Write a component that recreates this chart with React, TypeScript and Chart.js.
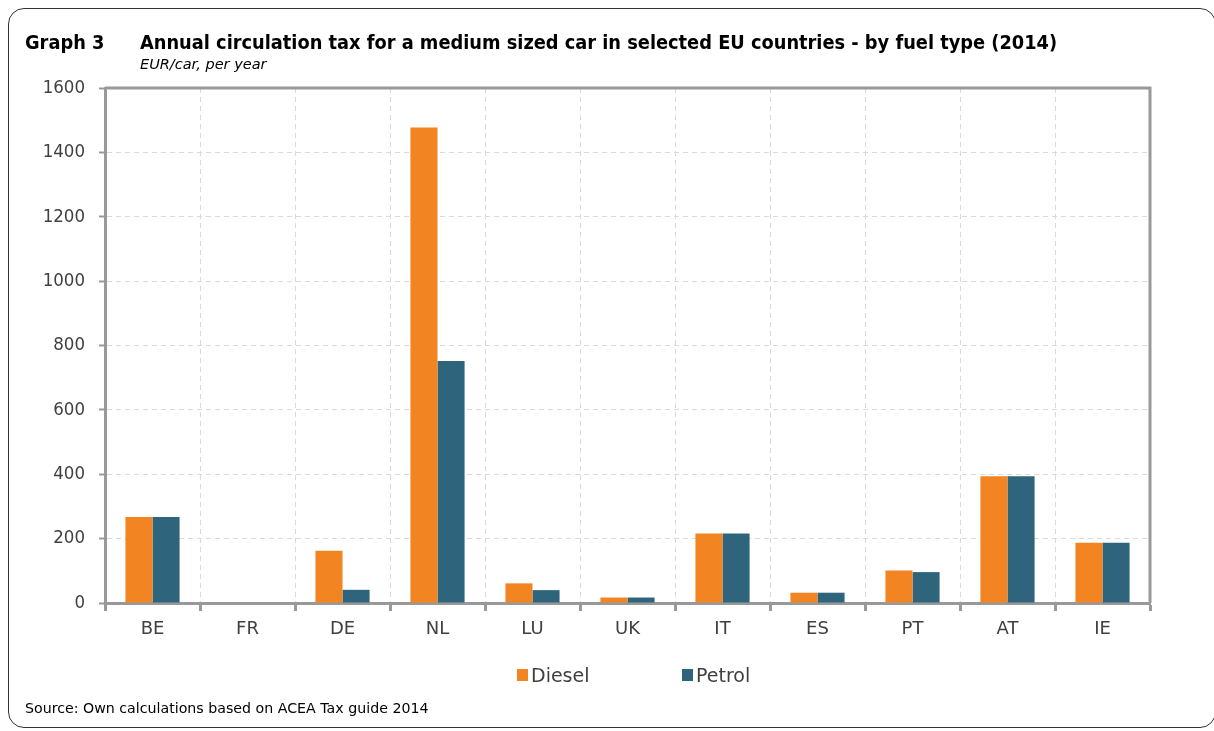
import React, { useEffect, useRef } from "react";
import { Chart, registerables } from "chart.js";

Chart.register(...registerables);

const countries = ["BE", "FR", "DE", "NL", "LU", "UK", "IT", "ES", "PT", "AT", "IE"];
const dieselValues = [267, 0, 162, 1477, 61, 17, 216, 32, 101, 394, 187];
const petrolValues = [267, 0, 41, 752, 40, 17, 216, 32, 96, 394, 187];
const seriesNames = ["Diesel", "Petrol"];
const seriesColors = ["#F28522", "#2E657C"];

const FONT_C = "'DejaVu Sans Condensed', 'DejaVu Sans', sans-serif";
const FONT = "'DejaVu Sans', sans-serif";

const boxPlugin = {
  id: "plotBox",
  afterDatasetsDraw(chart: any) {
    const { ctx, chartArea } = chart;
    ctx.save();
    ctx.strokeStyle = "#999999";
    ctx.lineWidth = 3;
    ctx.beginPath();
    ctx.moveTo(chartArea.left, chartArea.top);
    ctx.lineTo(chartArea.right, chartArea.top);
    ctx.lineTo(chartArea.right, chartArea.bottom);
    ctx.stroke();
    ctx.restore();
  },
};

export default function App() {
  const canvasRef = useRef<HTMLCanvasElement | null>(null);

  useEffect(() => {
    const canvas = canvasRef.current;
    if (!canvas) return;
    const chart = new Chart(canvas, {
      type: "bar",
      data: {
        labels: countries,
        datasets: [
          {
            label: seriesNames[0],
            data: dieselValues,
            backgroundColor: seriesColors[0],
            categoryPercentage: 0.57,
            barPercentage: 1,
          },
          {
            label: seriesNames[1],
            data: petrolValues,
            backgroundColor: seriesColors[1],
            categoryPercentage: 0.57,
            barPercentage: 1,
          },
        ],
      },
      options: {
        animation: false,
        responsive: true,
        maintainAspectRatio: false,
        layout: { padding: { left: 0, top: 88, right: 64, bottom: 0 } },
        plugins: {
          legend: { display: false },
          title: { display: false },
          tooltip: { enabled: false },
        },
        scales: {
          x: {
            offset: true,
            grid: {
              offset: true,
              color: "#d9d9d9",
              lineWidth: 1,
              drawTicks: true,
              tickLength: 8,
              tickColor: "#999999",
              tickWidth: 3,
              tickBorderDash: [],
            },
            border: { color: "#999999", width: 3, dash: [5, 4] },
            ticks: {
              color: "#404040",
              font: { family: FONT, size: 18 },
              padding: 8,
              maxRotation: 0,
            },
            afterFit(scale: any) {
              scale.height = 128;
            },
          },
          y: {
            min: 0,
            max: 1600,
            ticks: {
              stepSize: 200,
              color: "#404040",
              font: { family: FONT_C, size: 18.5 },
              padding: 14,
              callback: (v: any) => String(v),
            },
            grid: {
              color: "#d9d9d9",
              lineWidth: 1,
              drawTicks: true,
              tickLength: 6,
              tickColor: "#999999",
              tickWidth: 2,
              tickBorderDash: [],
            },
            border: { color: "#999999", width: 3, dash: [5, 4] },
            afterFit(scale: any) {
              scale.width = 105;
            },
          },
        },
      },
      plugins: [boxPlugin],
    } as any);
    return () => chart.destroy();
  }, []);

  const textBase: React.CSSProperties = {
    position: "absolute",
    fontFamily: FONT,
    color: "#1a1a1a",
    whiteSpace: "nowrap",
  };

  return (
    <div
      style={{
        position: "fixed",
        left: 0,
        top: 0,
        width: 1214,
        height: 731,
        background: "#ffffff",
        overflow: "hidden",
      }}
    >
      <div
        style={{
          position: "absolute",
          left: 8,
          top: 8,
          width: 1206,
          height: 718,
          border: "1.5px solid #333",
          borderRadius: 16,
        }}
      />
      <div style={{ position: "absolute", left: 0, top: 0, width: 1214, height: 731 }}>
        <canvas ref={canvasRef} />
      </div>
      <div style={{ ...textBase, fontFamily: FONT_C, left: 25, top: 31, fontSize: 19.8, fontWeight: "bold", color: "#000" }}>
        Graph 3
      </div>
      <div style={{ ...textBase, fontFamily: FONT_C, left: 140, top: 31, fontSize: 19.8, fontWeight: "bold", color: "#000" }}>
        Annual circulation tax for a medium sized car in selected EU countries - by fuel type (2014)
      </div>
      <div style={{ ...textBase, left: 140, top: 56, fontSize: 14.5, fontStyle: "italic", color: "#000" }}>
        EUR/car, per year
      </div>
      <div style={{ ...textBase, left: 517, top: 664, fontSize: 19, color: "#404040", display: "flex", alignItems: "center" }}>
        <span style={{ display: "inline-block", width: 11, height: 12, background: seriesColors[0], marginRight: 3 }} />
        <span>{seriesNames[0]}</span>
      </div>
      <div style={{ ...textBase, left: 682, top: 664, fontSize: 19, color: "#404040", display: "flex", alignItems: "center" }}>
        <span style={{ display: "inline-block", width: 11, height: 12, background: seriesColors[1], marginRight: 3 }} />
        <span>{seriesNames[1]}</span>
      </div>
      <div style={{ ...textBase, left: 25, top: 700, fontSize: 14.2, color: "#000" }}>
        Source: Own calculations based on ACEA Tax guide 2014
      </div>
    </div>
  );
}
